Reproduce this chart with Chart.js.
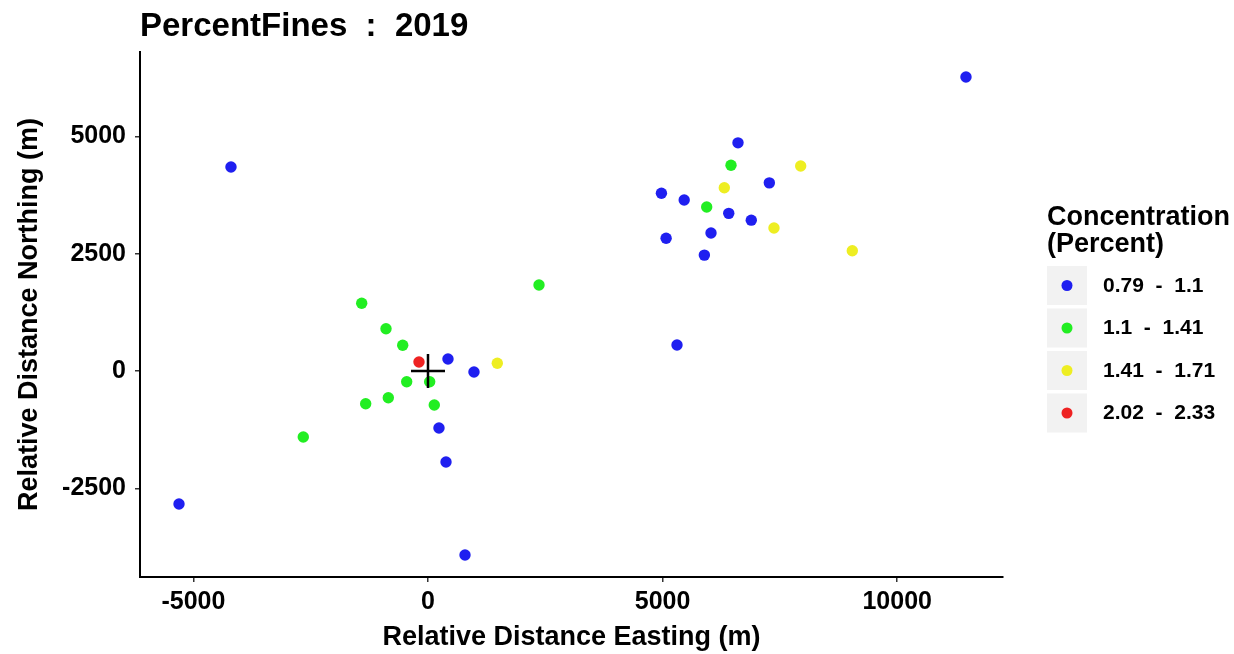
<!DOCTYPE html>
<html>
<head>
  <title>PercentFines 2019</title>
  <script src="https://cdn.jsdelivr.net/npm/chart.js"></script>
  <style>
    body { margin: 0; background: #fff; }
  </style>
</head>
<body>
  <canvas id="myChart" width="1234" height="654"></canvas>

  <script type="text/javascript">
    // legend classes
    const classLabels = ['0.79  -  1.1', '1.1  -  1.41', '1.41  -  1.71', '2.02  -  2.33'];
    const classColors = ['#1f1ff0', '#22ee22', '#eeee22', '#ee2222'];

    // sample locations, relative to the origin (m)
    const blueX = [11466, -4199, -5307, 6607, 4975, 5460, 7275, 6410, 6890, 5075, 6032, 5890, 5307, 426, 980, 234, 384, 789];
    const blueY = [6266, 4348, -2835, 4863, 3790, 3645, 4010, 3360, 3215, 2830, 2941, 2470, 554, 256, -21, -1215, -1939, -3922];
    const greenX = [-1413, -895, -539, -454, 36, -1328, -846, 134, -2658, 2366, 6458, 5940];
    const greenY = [1443, 901, 548, -230, -230, -697, -569, -725, -1407, 1833, 4384, 3495];
    const yellowX = [1477, 7943, 6315, 7374, 9043];
    const yellowY = [164, 4369, 3907, 3048, 2564];
    const redX = [-192];
    const redY = [192];

    const xTicks = [-5000, 0, 5000, 10000];
    const yTicks = [-2500, 0, 2500, 5000];

    const FONT = "'Liberation Sans', Arial, sans-serif";
    Chart.defaults.font.family = FONT;
    Chart.defaults.color = '#000';

    function pts(xs, ys) {
      return xs.map((x, i) => ({ x: x, y: ys[i] }));
    }

    const groups = [pts(blueX, blueY), pts(greenX, greenY), pts(yellowX, yellowY), pts(redX, redY)];

    const datasets = [{
      label: 'origin',
      data: [{ x: 0, y: 0 }],
      pointStyle: 'cross',
      pointRadius: 17,
      borderColor: '#000',
      borderWidth: 2.5,
      order: 0
    }];
    groups.forEach(function (g, i) {
      datasets.push({
        label: classLabels[i],
        data: g,
        pointRadius: 5.7,
        pointBorderWidth: 0,
        backgroundColor: classColors[i],
        borderColor: classColors[i],
        order: 4 - i
      });
    });

    // title + legend drawn on canvas
    const extras = {
      id: 'extras',
      afterDraw(chart) {
        const ctx = chart.ctx;
        ctx.save();
        ctx.fillStyle = '#000';
        ctx.textAlign = 'left';
        ctx.textBaseline = 'alphabetic';
        ctx.font = 'bold 33px ' + FONT;
        ctx.fillText('PercentFines  :  2019', chart.chartArea.left, 36);

        ctx.font = 'bold 27px ' + FONT;
        ctx.fillText('Concentration', 1047, 225);
        ctx.fillText('(Percent)', 1047, 252);

        classLabels.forEach(function (lab, i) {
          const top = 266 + i * 42.5;
          ctx.fillStyle = '#f2f2f2';
          ctx.fillRect(1047, top, 40, 39);
          ctx.fillStyle = classColors[i];
          ctx.beginPath();
          ctx.arc(1067, top + 19.5, 5.5, 0, Math.PI * 2);
          ctx.fill();
          ctx.fillStyle = '#000';
          ctx.font = 'bold 21px ' + FONT;
          ctx.textBaseline = 'middle';
          ctx.fillText(lab, 1103, top + 20);
        });
        ctx.restore();
      }
    };

    const ctx = document.getElementById('myChart').getContext('2d');
    new Chart(ctx, {
      type: 'scatter',
      data: { datasets: datasets },
      plugins: [extras],
      options: {
        responsive: false,
        animation: false,
        devicePixelRatio: 1,
        layout: { padding: { top: 52, right: 231, bottom: 0, left: 0 } },
        plugins: {
          legend: { display: false },
          tooltip: { enabled: false }
        },
        scales: {
          x: {
            type: 'linear',
            min: -6138,
            max: 12255,
            afterBuildTicks: s => { s.ticks = xTicks.map(v => ({ value: v })); },
            afterFit: s => { s.height = 77; },
            ticks: {
              font: { size: 25, weight: 'bold' },
              color: '#000',
              padding: 5,
              maxRotation: 0,
              callback: v => String(v)
            },
            grid: { drawOnChartArea: false, drawTicks: true, tickLength: 5, color: '#333', lineWidth: 1.5 },
            border: { display: true, color: '#000', width: 2 },
            title: {
              display: true,
              text: 'Relative Distance Easting (m)',
              font: { size: 27, weight: 'bold' },
              color: '#000',
              padding: { top: 3, bottom: 0 }
            }
          },
          y: {
            type: 'linear',
            min: -4390,
            max: 6799,
            afterBuildTicks: s => { s.ticks = yTicks.map(v => ({ value: v })); },
            afterFit: s => { s.width = 140; },
            ticks: {
              font: { size: 25, weight: 'bold' },
              color: '#000',
              padding: 9,
              callback: v => String(v)
            },
            grid: { drawOnChartArea: false, drawTicks: true, tickLength: 5, color: '#333', lineWidth: 1.5 },
            border: { display: true, color: '#000', width: 2 },
            title: {
              display: true,
              text: 'Relative Distance Northing (m)',
              font: { size: 27, weight: 'bold' },
              color: '#000',
              padding: { top: 13, bottom: 0 }
            }
          }
        }
      }
    });
  </script>
</body>
</html>
